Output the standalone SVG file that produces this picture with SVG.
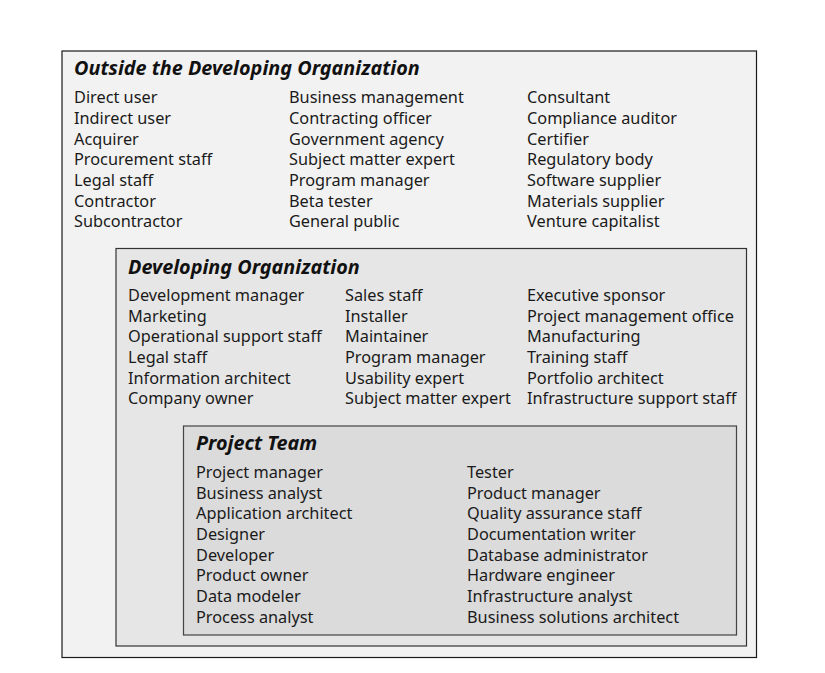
<svg xmlns="http://www.w3.org/2000/svg" width="825" height="673" viewBox="0 0 825 673">
  <style>
    .t { font-family: "Noto Sans", "Open Sans", sans-serif; font-size: 16.3px; fill: #1a1a1a; }
    .h { font-family: "Noto Sans", "Open Sans", sans-serif; font-size: 19.8px; font-weight: bold; font-style: italic; fill: #111; }
  </style>
  <rect width="825" height="673" fill="#ffffff"/>

  <!-- Outermost stakeholder group -->
  <g id="outside">
    <rect x="62" y="51" width="694.5" height="606.5" fill="#f2f2f2" stroke="#1a1a1a" stroke-width="1.2"/>
    <text class="h" x="74" y="75">Outside the Developing Organization</text>
    <g class="t">
      <text x="74" y="103.3">Direct user</text>
      <text x="74" y="124">Indirect user</text>
      <text x="74" y="144.7">Acquirer</text>
      <text x="74" y="165.3">Procurement staff</text>
      <text x="74" y="186">Legal staff</text>
      <text x="74" y="206.7">Contractor</text>
      <text x="74" y="227.3">Subcontractor</text>
      <text x="289" y="103.3">Business management</text>
      <text x="289" y="124">Contracting officer</text>
      <text x="289" y="144.7">Government agency</text>
      <text x="289" y="165.3">Subject matter expert</text>
      <text x="289" y="186">Program manager</text>
      <text x="289" y="206.7">Beta tester</text>
      <text x="289" y="227.3">General public</text>
      <text x="527" y="103.3">Consultant</text>
      <text x="527" y="124">Compliance auditor</text>
      <text x="527" y="144.7">Certifier</text>
      <text x="527" y="165.3">Regulatory body</text>
      <text x="527" y="186">Software supplier</text>
      <text x="527" y="206.7">Materials supplier</text>
      <text x="527" y="227.3">Venture capitalist</text>
    </g>
  </g>

  <!-- Developing organization -->
  <g id="developing">
    <rect x="116" y="248.5" width="630.5" height="397.5" fill="#e6e6e6" stroke="#333" stroke-width="1.2"/>
    <text class="h" x="128" y="274">Developing Organization</text>
    <g class="t">
      <text x="128" y="301">Development manager</text>
      <text x="128" y="321.7">Marketing</text>
      <text x="128" y="342.3">Operational support staff</text>
      <text x="128" y="363">Legal staff</text>
      <text x="128" y="383.7">Information architect</text>
      <text x="128" y="404.3">Company owner</text>
      <text x="345" y="301">Sales staff</text>
      <text x="345" y="321.7">Installer</text>
      <text x="345" y="342.3">Maintainer</text>
      <text x="345" y="363">Program manager</text>
      <text x="345" y="383.7">Usability expert</text>
      <text x="345" y="404.3">Subject matter expert</text>
      <text x="527" y="301">Executive sponsor</text>
      <text x="527" y="321.7">Project management office</text>
      <text x="527" y="342.3">Manufacturing</text>
      <text x="527" y="363">Training staff</text>
      <text x="527" y="383.7">Portfolio architect</text>
      <text x="527" y="404.3">Infrastructure support staff</text>
    </g>
  </g>

  <!-- Project team -->
  <g id="project-team">
    <rect x="183.5" y="426" width="553" height="209" fill="#dbdbdb" stroke="#444" stroke-width="1.2"/>
    <text class="h" x="196" y="450">Project Team</text>
    <g class="t">
      <text x="196" y="478">Project manager</text>
      <text x="196" y="498.7">Business analyst</text>
      <text x="196" y="519.3">Application architect</text>
      <text x="196" y="540">Designer</text>
      <text x="196" y="560.7">Developer</text>
      <text x="196" y="581.3">Product owner</text>
      <text x="196" y="602">Data modeler</text>
      <text x="196" y="622.7">Process analyst</text>
      <text x="467" y="478">Tester</text>
      <text x="467" y="498.7">Product manager</text>
      <text x="467" y="519.3">Quality assurance staff</text>
      <text x="467" y="540">Documentation writer</text>
      <text x="467" y="560.7">Database administrator</text>
      <text x="467" y="581.3">Hardware engineer</text>
      <text x="467" y="602">Infrastructure analyst</text>
      <text x="467" y="622.7">Business solutions architect</text>
    </g>
  </g>
</svg>
